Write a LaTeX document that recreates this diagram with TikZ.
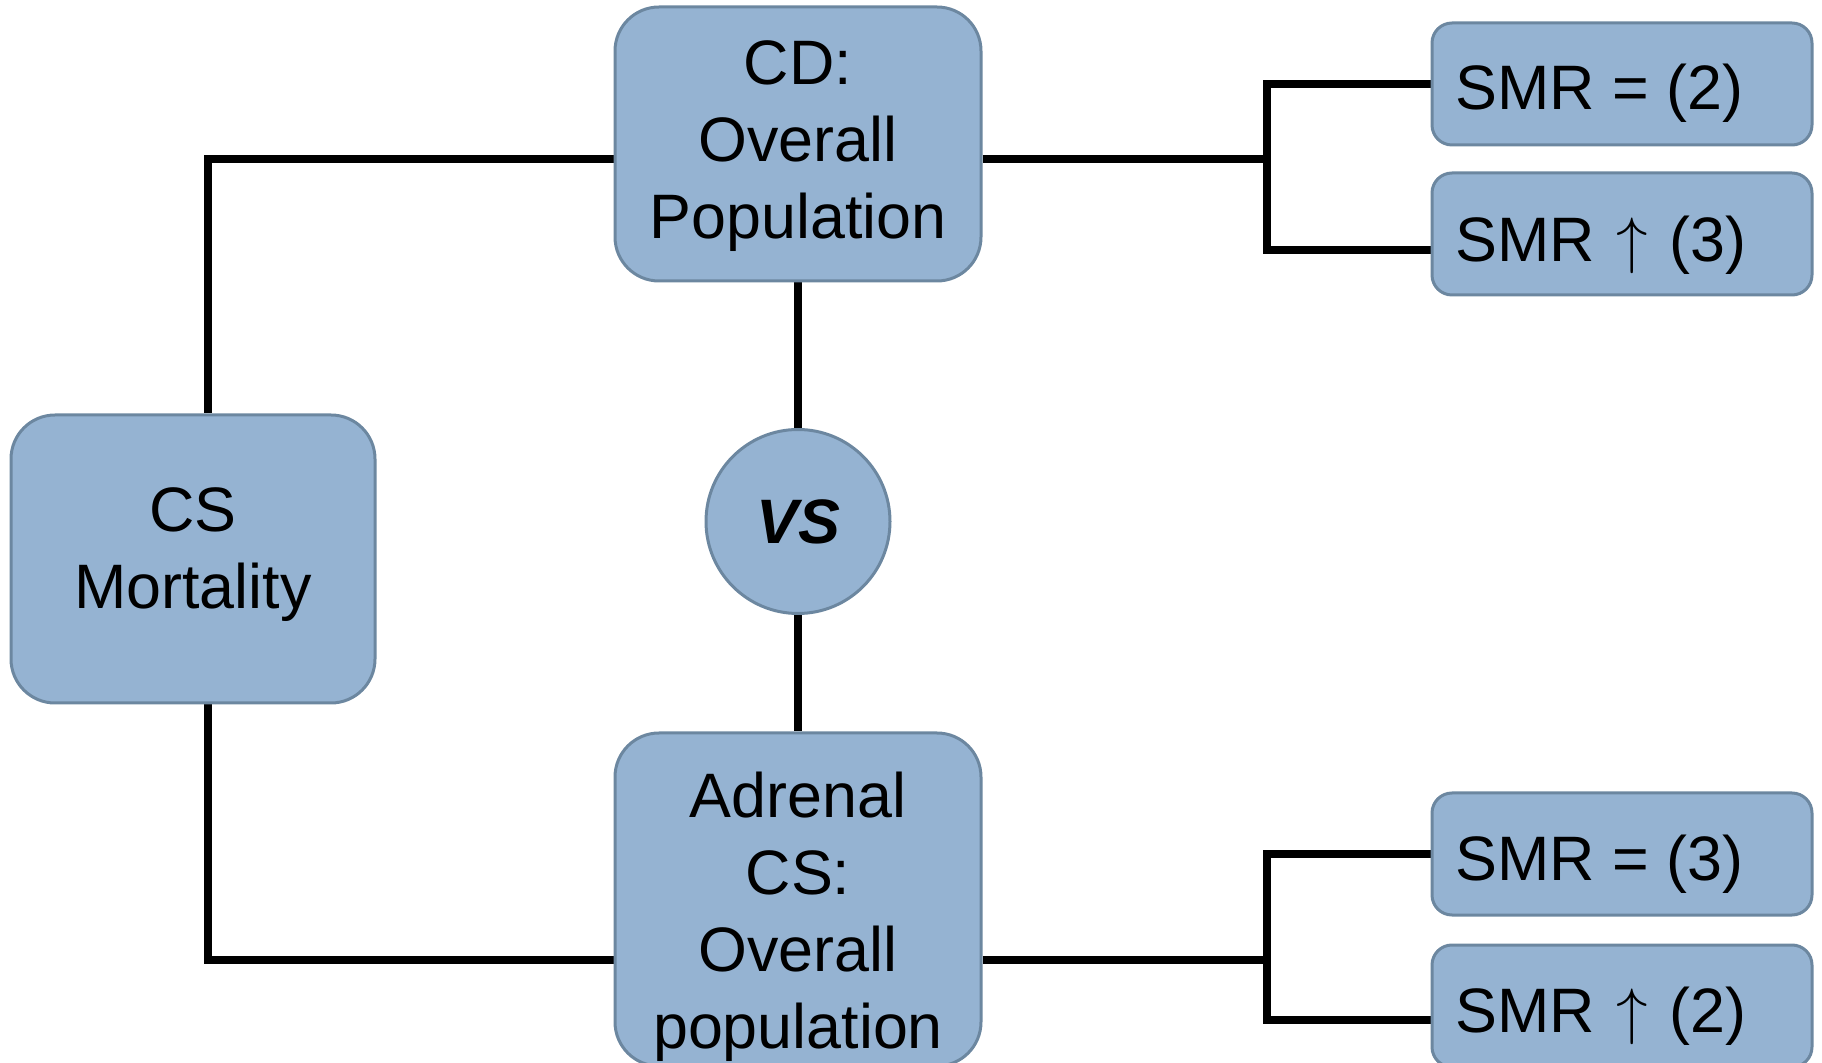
\documentclass[tikz,border=0pt]{standalone}
\usepackage{fix-cm}
\usepackage{fontspec}
\setmainfont{Liberation Sans}
\usetikzlibrary{backgrounds}
\definecolor{boxfill}{RGB}{149,179,210}
\definecolor{boxline}{RGB}{108,135,160}
% tall thin arrow used in the SMR labels
\newcommand{\rise}{\hspace{2pt}$\uparrow$\hspace{2pt}}
\begin{document}
\begin{tikzpicture}[x=0.5pt,y=-0.5pt,
  box/.style={draw=boxline, fill=boxfill, line width=1.5pt, inner sep=0pt},
  bigbox/.style={box, rounded corners=22pt},
  smrbox/.style={box, rounded corners=10pt, minimum width=190pt, minimum height=61pt},
  txt/.style={inner sep=0pt, font=\fontsize{31.4pt}{38.5pt}\selectfont, align=center},
  conn/.style={line width=3.6pt, black}]
\useasboundingbox (0,0) rectangle (1822,1063);
\clip (0,0) rectangle (1822,1063);

% main boxes
\node[bigbox, minimum width=182pt, minimum height=144pt] (cs) at (193,559) {};
\node[txt] (cst) at (193,555) {CS\\Mortality};

\node[bigbox, minimum width=183pt, minimum height=137pt] (cd) at (798,144) {};
\node[txt] (cdt) at (798,146) {CD:\\Overall\\Population};

\node[bigbox, minimum width=183pt, minimum height=166.5pt] (adr) at (798,899.5) {};
\node[txt] (adrt) at (798,917) {Adrenal\\CS:\\Overall\\population};

\node[box, circle, minimum size=92pt, font=\fontsize{31.4pt}{38.5pt}\selectfont\bfseries\itshape] (vs) at (798,521.5) {VS};

% result boxes
\node[smrbox] (smrA) at (1622,84) {};
\node[smrbox] (smrB) at (1622,234) {};
\node[smrbox] (smrC) at (1622,854) {};
\node[smrbox] (smrD) at (1622,1006) {};
\node[txt, anchor=base west] (smrAt) at (1455,110) {SMR = (2)};
\node[txt, anchor=base west] (smrBt) at (1455,262) {SMR \rise{} (3)};
\node[txt, anchor=base west] (smrCt) at (1455,880) {SMR = (3)};
\node[txt, anchor=base west] (smrDt) at (1455,1032) {SMR \rise{} (2)};

% rails and columns of the connectors
\coordinate (railCD) at (0,159);
\coordinate (railAd) at (0,960);
\coordinate (colL) at (208,0);
\coordinate (colR) at (1267,0);
\coordinate (tapB) at (0,250);
\coordinate (tapD) at (0,1020);

\begin{scope}[on background layer]
\draw[conn] (cd.west |- railCD) -| (colL |- cs.north);
\draw[conn] (cs.south -| colL) |- (adr.west |- railAd);
\draw[conn] (cd.east |- railCD) -- (colR |- railCD);
\draw[conn] (smrA.west) -| (colR |- tapB) -- (smrB.west |- tapB);
\draw[conn] (adr.east |- railAd) -- (colR |- railAd);
\draw[conn] (smrC.west) -| (colR |- tapD) -- (smrD.west |- tapD);
\draw[conn] (cd.south) -- (vs.north);
\draw[conn] (vs.south) -- (adr.north);
\end{scope}
\end{tikzpicture}
\end{document}
